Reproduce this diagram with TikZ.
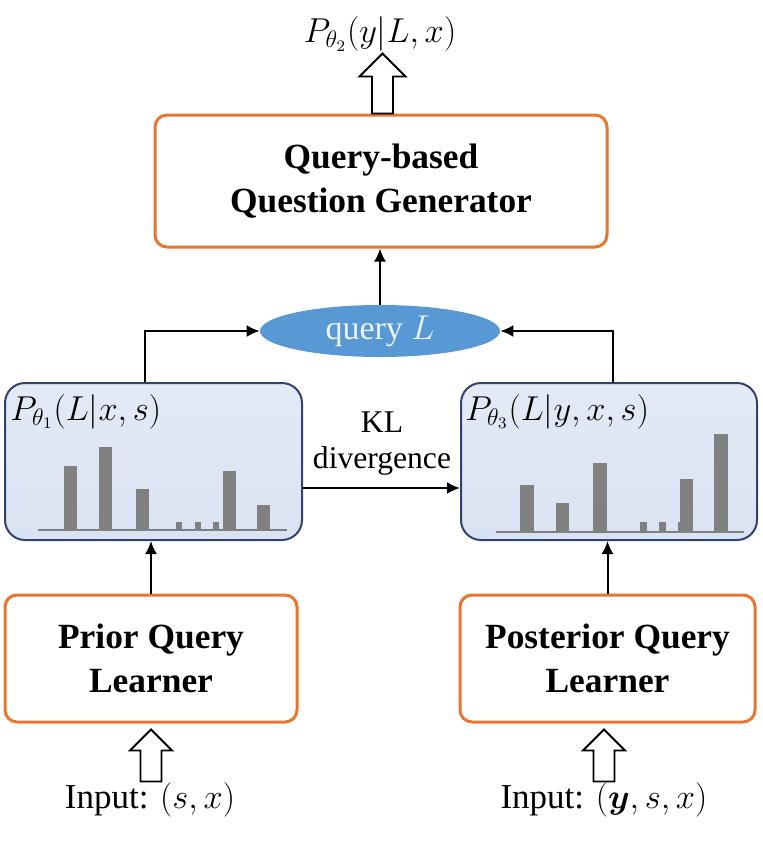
\documentclass[tikz,border=0pt]{standalone}
\usepackage{amsmath,bm}
\usepackage{fontspec}
\setmainfont{Liberation Serif}
\usetikzlibrary{shapes.geometric,arrows.meta,calc}
\definecolor{orangeb}{RGB}{234,118,46}
\definecolor{distfill}{RGB}{218,227,243}
\definecolor{distdraw}{RGB}{52,66,110}
\definecolor{ellfill}{RGB}{88,152,212}
\definecolor{bargray}{RGB}{128,128,128}
\definecolor{qtext}{RGB}{235,243,252}
\tikzset{
  learnbox/.style={draw=orangeb, line width=1.5pt, rounded corners=6pt, fill=white, align=center, inner sep=0pt,
    font=\bfseries\fontsize{17.7}{22}\selectfont},
  distbox/.style={draw=distdraw, line width=1pt, rounded corners=10pt, top color=distfill!75!white, bottom color=distfill, inner sep=0pt},
  conn/.style={-{Latex[length=6.5pt,width=6pt]}, line width=1pt},
  hollow/.style={draw=black, line width=0.9pt, fill=white},
  bar/.style={fill=bargray, draw=none},
  mathlbl/.style={font=\fontsize{17}{20}\selectfont, inner sep=0pt},
  inputlbl/.style={font=\fontsize{17.5}{20}\selectfont, inner sep=0pt},
}
\begin{document}
\begin{tikzpicture}[x=0.5pt,y=-0.5pt]
\useasboundingbox (0,0) rectangle (762,846);
% top generator
\node[learnbox, minimum width=226pt, minimum height=66pt] (gen) at (381,181) {Query-based\\Question Generator};
\node[mathlbl] (out) at (380,34) {$P_{\theta_2}(y|L,x)$};
% ellipse
\node[ellipse, fill=ellfill, minimum width=120pt, minimum height=26pt, inner sep=0pt,
      text=qtext, font=\fontsize{17}{20}\selectfont] (q) at (380,331) {query $L$};
% distribution boxes
\node[distbox, minimum width=148.5pt, minimum height=78.5pt] (pl) at (153.5,461.5) {};
\node[distbox, minimum width=148pt, minimum height=78.5pt] (pr) at (609,461.5) {};
\node[mathlbl, anchor=base west] (pllbl) at (10,420) {$P_{\theta_1}(L|x,s)$};
\node[mathlbl, anchor=base west] (prlbl) at (465,420) {$P_{\theta_3}(L|y,x,s)$};
% bars left
\draw[bargray, line width=1pt] (38,530) -- (287,530);
\fill[bar] (64,466) rectangle (77,530);
\fill[bar] (99,447) rectangle (112,530);
\fill[bar] (136,489) rectangle (149,530);
\fill[bar] (176,522) rectangle (182,530);
\fill[bar] (195,522) rectangle (201,530);
\fill[bar] (213,522) rectangle (219,530);
\fill[bar] (223,471) rectangle (236,530);
\fill[bar] (257,505) rectangle (270,530);
% bars right
\draw[bargray, line width=1pt] (496,532) -- (744,532);
\fill[bar] (520,485) rectangle (534,532);
\fill[bar] (556,503) rectangle (569,532);
\fill[bar] (593,463) rectangle (607,532);
\fill[bar] (640,522) rectangle (647,532);
\fill[bar] (659,522) rectangle (666,532);
\fill[bar] (678,522) rectangle (685,532);
\fill[bar] (680,479) rectangle (693,532);
\fill[bar] (714,434) rectangle (728,532);
% learners
\node[learnbox, minimum width=146pt, minimum height=63.5pt] (bl) at (151,658.5) {Prior Query\\Learner};
\node[learnbox, minimum width=147.5pt, minimum height=63.5pt] (br) at (607.5,658.5) {Posterior Query\\Learner};
\node[inputlbl] (inl) at (150,800) {Input: $(s,x)$};
\node[inputlbl] (inr) at (604,800) {Input: $(\bm{y},s,x)$};
% KL
\node[align=center, font=\fontsize{15.8}{18}\selectfont, inner sep=0pt] (kl) at (382,444) {KL\\divergence};
\coordinate (klrow) at (382,488);
% connectors
\draw[conn] (q.north) -- (q.north |- gen.south);
\draw[conn] ([xshift=-4.5pt]pl.north) |- (q.west);
\draw[conn] ([xshift=2pt]pr.north) |- (q.east);
\draw[conn] (pl.east |- klrow) -- (pr.west |- klrow);
\draw[conn] (bl.north) -- (bl.north |- pl.south);
\draw[conn] (br.north) -- (br.north |- pr.south);
% hollow arrows
\draw[hollow] ([xshift=0.75pt]gen.north) ++(-10.5,0) -- ++(0,-37) -- ++(-12.5,0) -- ++(23,-23) -- ++(23,23) -- ++(-12.5,0) -- ++(0,37) -- cycle;
\draw[hollow] (bl.south) ++(0,6) -- ++(21,21) -- ++(-10.5,0) -- ++(0,31) -- ++(-21,0) -- ++(0,-31) -- ++(-10.5,0) -- cycle;
\draw[hollow] ([xshift=-1.75pt]br.south) ++(0,6) -- ++(21,21) -- ++(-10.5,0) -- ++(0,31) -- ++(-21,0) -- ++(0,-31) -- ++(-10.5,0) -- cycle;
\end{tikzpicture}
\end{document}
